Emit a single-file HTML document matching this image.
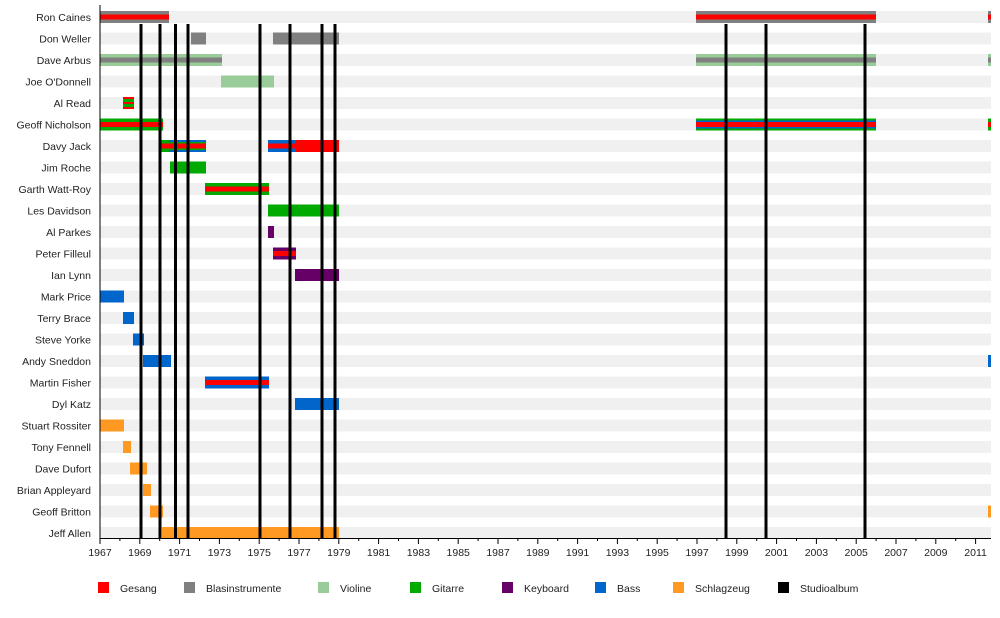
<!DOCTYPE html>
<html><head><meta charset="utf-8"><style>
body{margin:0;background:#fff}
svg{display:block}
text{font-family:"Liberation Sans",sans-serif;font-size:10.5px;fill:#222}
</style></head><body>
<svg width="1000" height="618" xmlns="http://www.w3.org/2000/svg">
<g id="stripes" fill="#f0f0f0"></g>
<g id="bars"></g>
<g id="lines" stroke="#000" stroke-width="3"></g>
<g id="labels" text-anchor="end"></g>
<g id="axis"></g>
<g id="legend"></g>
<script><![CDATA[
var NS="http://www.w3.org/2000/svg";
function el(p,t,a,txt){var e=document.createElementNS(NS,t);for(var k in a)e.setAttribute(k,a[k]);if(txt!=null)e.textContent=txt;document.getElementById(p).appendChild(e);return e;}
var names=["Ron Caines","Don Weller","Dave Arbus","Joe O'Donnell","Al Read","Geoff Nicholson","Davy Jack","Jim Roche","Garth Watt-Roy","Les Davidson","Al Parkes","Peter Filleul","Ian Lynn","Mark Price","Terry Brace","Steve Yorke","Andy Sneddon","Martin Fisher","Dyl Katz","Stuart Rossiter","Tony Fennell","Dave Dufort","Brian Appleyard","Geoff Britton","Jeff Allen"];
function cy(i){return 17+i*21.5;}
var R="#ff0000",G="#808080",V="#99cc99",Gi="#00aa00",K="#660066",B="#0066cc",S="#ff9922";
names.forEach(function(n,i){
 el("stripes","rect",{x:100,y:cy(i)-6,width:891,height:12});
 el("labels","text",{x:91,y:cy(i)+4},n);
});
function bar(i,x1,x2,outer,inner,center){
 var y=cy(i);
 el("bars","rect",{x:x1,y:y-6,width:x2-x1,height:12,fill:outer});
 if(inner)el("bars","rect",{x:x1,y:y-4,width:x2-x1,height:8,fill:inner});
 if(center)el("bars","rect",{x:x1,y:y-2.5,width:x2-x1,height:5,fill:center});
}
bar(0,100,169,G,null,R);bar(0,696,876,G,null,R);bar(0,988,991,G,null,R);
bar(1,191,206,G);bar(1,273,339,G);
bar(2,100,222,V,null,G);bar(2,696,876,V,null,G);bar(2,988,991,V,null,G);
bar(3,221,274,V);
bar(4,123,134,R,Gi,null);el("bars","rect",{x:123,y:cy(4)-1,width:11,height:2,fill:R});
bar(5,100,163,Gi,null,R);bar(5,696,876,Gi,B,R);bar(5,988,991,Gi,null,R);
bar(6,160,206,Gi,null,R);bar(6,169,206,B,Gi,R);bar(6,268,296,B,null,R);bar(6,296,339,R);
bar(7,170,206,Gi);
bar(8,205,269,Gi,null,R);
bar(9,268,339,Gi);
bar(10,268,274,K);
bar(11,273,296,K,null,R);
bar(12,295,339,K);
bar(13,100,124,B);
bar(14,123,134,B);
bar(15,133,144,B);
bar(16,143,171,B);bar(16,988,991,B);
bar(17,205,269,B,null,R);
bar(18,295,339,B);
bar(19,100,124,S);
bar(20,123,131,S);
bar(21,130,147,S);
bar(22,143,151,S);
bar(23,150,163,S);bar(23,988,991,S);
bar(24,162,339,S);
[141,160,175.5,188,260,290,322,335,726,766,865].forEach(function(x){
 el("lines","line",{x1:x,y1:24,x2:x,y2:538});
});
el("axis","line",{x1:100,y1:5,x2:100,y2:539,stroke:"#000","stroke-width":1});
el("axis","line",{x1:100,y1:538.5,x2:991,y2:538.5,stroke:"#000","stroke-width":1});
for(var yr=1967;yr<=2011;yr++){
 var x=100+(yr-1967)*19.9;
 var major=(yr-1967)%2==0;
 el("axis","line",{x1:x,y1:538,x2:x,y2:major?544:541,stroke:"#000","stroke-width":1});
 if(major)el("axis","text",{x:x,y:556,"text-anchor":"middle"},String(yr));
}
var leg=[[98,R,"Gesang"],[184,G,"Blasinstrumente"],[318,V,"Violine"],[410,Gi,"Gitarre"],[502,K,"Keyboard"],[595,B,"Bass"],[673,S,"Schlagzeug"],[778,"#000","Studioalbum"]];
leg.forEach(function(l){
 el("legend","rect",{x:l[0],y:582,width:11,height:11,fill:l[1]});
 el("legend","text",{x:l[0]+22,y:592},l[2]);
});
]]></script>
</svg>
</body></html>
